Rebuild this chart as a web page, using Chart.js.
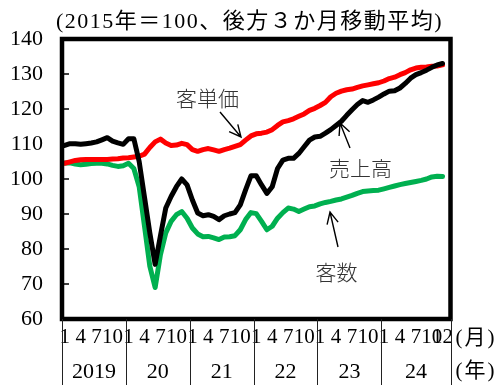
<!DOCTYPE html>
<html>
<head>
<meta charset="utf-8">
<script src="https://cdn.jsdelivr.net/npm/chart.js@4.4.1/dist/chart.umd.min.js"></script>
<style>
  body { margin: 0; background: #fff; }
</style>
</head>
<body>
<canvas id="grafico" width="499" height="385"></canvas>
<script>
// etiquetas de los ejes
const anios = ['2019', '20', '21', '22', '23', '24'];
const marcasMes = ['1', '4', '7', '10'];
const ultimaMarca = '12';

// 2015=100, media movil de 3 meses, ene 2019 - dic 2024
const ventas = [
  109.6, 110.1, 110.1, 109.9, 110.1, 110.3, 110.6, 111.2, 111.8, 110.8, 110.3, 109.9,
  111.5, 111.5, 105.0, 94.8, 84.6, 75.6, 83.8, 91.7, 95.0, 97.8, 100.0, 98.3,
  94.0, 90.3, 89.5, 89.8, 89.3, 88.4, 89.5, 90.0, 90.4, 92.6, 96.9, 100.9,
  100.9, 98.3, 95.9, 97.8, 103.0, 105.4, 105.9, 105.9, 107.3, 109.2, 111.1, 112.0,
  112.2, 113.1, 114.1, 115.3, 116.5, 118.2, 119.8, 121.3, 122.4, 121.9, 122.6, 123.4,
  124.3, 125.1, 125.2, 126.0, 127.3, 128.8, 129.8, 130.4, 131.1, 131.9, 132.6, 133.0
];
const precioMedio = [
  104.5, 104.9, 105.3, 105.5, 105.6, 105.6, 105.6, 105.6, 105.6, 105.7, 105.8, 106.0,
  106.1, 106.3, 106.5, 107.1, 109.0, 110.6, 111.4, 110.3, 109.6, 109.7, 110.2, 109.8,
  108.4, 107.9, 108.4, 108.7, 108.3, 107.9, 108.4, 108.8, 109.3, 109.8, 111.1, 112.3,
  112.9, 113.1, 113.4, 114.1, 115.3, 116.3, 116.7, 117.2, 117.9, 118.6, 119.6, 120.2,
  121.0, 121.9, 123.5, 124.5, 125.1, 125.5, 125.7, 126.2, 126.6, 126.9, 127.2, 127.5,
  128.0, 128.7, 129.1, 129.8, 130.4, 131.2, 131.7, 131.9, 132.0, 132.2, 132.3, 132.6
];
const clientes = [
  104.6, 104.6, 104.3, 104.1, 104.2, 104.4, 104.5, 104.5, 104.3, 103.9, 103.6, 103.8,
  104.5, 103.0, 97.8, 86.5, 75.1, 69.0, 78.4, 84.6, 87.9, 89.8, 90.7, 88.8,
  86.0, 84.3, 83.5, 83.6, 83.2, 82.7, 83.4, 83.5, 83.8, 85.5, 88.4, 90.4,
  90.1, 87.9, 85.5, 86.5, 88.8, 90.4, 91.7, 91.4, 90.7, 91.4, 92.1, 92.3,
  92.9, 93.3, 93.6, 94.0, 94.3, 94.8, 95.3, 95.9, 96.4, 96.6, 96.7, 96.8,
  97.2, 97.6, 98.0, 98.4, 98.7, 99.0, 99.3, 99.6, 100.0, 100.6, 100.8, 100.7
];

// un hueco extra al final del eje, como en el original
let categorias = [];
for (let a = 2019; a <= 2024; a++) {
    for (let m = 1; m <= 12; m++) {
        categorias.push(a + '/' + m);
    }
}
categorias.push('');

const serif = "'Liberation Serif', 'Noto Sans CJK JP', serif";
const gotica = "'Noto Sans CJK JP', sans-serif";

function flecha(ctx, x1, y1, x2, y2){
    const ang = Math.atan2(y2 - y1, x2 - x1);
    const largo = 13;
    ctx.beginPath();
    ctx.moveTo(x1, y1);
    ctx.lineTo(x2, y2);
    ctx.moveTo(x2 - largo * Math.cos(ang - 0.45), y2 - largo * Math.sin(ang - 0.45));
    ctx.lineTo(x2, y2);
    ctx.lineTo(x2 - largo * Math.cos(ang + 0.45), y2 - largo * Math.sin(ang + 0.45));
    ctx.stroke();
}

const decorado = {
    id: 'decorado',
    afterDraw(chart) {
        const ctx = chart.ctx;
        const area = chart.chartArea;
        const ex = chart.scales.x;
        const ey = chart.scales.y;
        ctx.save();

        // marcas cortas hacia dentro en el eje y
        ctx.strokeStyle = '#000';
        ctx.lineWidth = 1.5;
        for (let v = 70; v <= 130; v += 10) {
            let py = ey.getPixelForValue(v);
            ctx.beginPath();
            ctx.moveTo(area.left, py);
            ctx.lineTo(area.left + 7, py);
            ctx.stroke();
        }

        // marco del grafico
        ctx.lineWidth = 4.5;
        ctx.strokeRect(area.left, area.top, area.right - area.left, area.bottom - area.top);

        // separadores y etiquetas de año
        const paso = ex.getPixelForValue(1) - ex.getPixelForValue(0);
        let cortes = [];
        for (let k = 0; k < anios.length; k++) {
            cortes.push(ex.getPixelForValue(k * 12) - paso / 2);
        }
        cortes.push(area.right);
        ctx.lineWidth = 1;
        ctx.strokeStyle = '#222';
        for (let k = 0; k < cortes.length; k++) {
            ctx.beginPath();
            ctx.moveTo(Math.round(cortes[k]) + 0.5, area.bottom);
            ctx.lineTo(Math.round(cortes[k]) + 0.5, 385);
            ctx.stroke();
        }
        ctx.fillStyle = '#000';
        ctx.font = '22px ' + serif;
        ctx.textAlign = 'center';
        ctx.textBaseline = 'middle';
        for (let k = 0; k < anios.length; k++) {
            ctx.fillText(anios[k], (cortes[k] + cortes[k + 1]) / 2, 372);
        }

        // unidades a la derecha
        ctx.textAlign = 'left';
        ctx.font = '21px ' + serif;
        ctx.letterSpacing = '2px';
        ctx.fillText('(月)', area.right + 5, 338);
        ctx.fillText('(年)', area.right + 5, 371);

        // titulo
        ctx.font = '22px ' + serif;
        ctx.letterSpacing = '1.5px';
        ctx.textAlign = 'center';
        ctx.fillText('(2015年＝100、後方３か月移動平均)', 249.5, 22);
        ctx.letterSpacing = '0px';

        // nombres de las series con sus flechas
        ctx.fillStyle = '#333';
        ctx.font = '300 21px ' + gotica;
        ctx.fillText('客単価', 207.5, 98);
        ctx.fillText('売上高', 360.5, 168);
        ctx.fillText('客数', 336.5, 272);

        ctx.strokeStyle = '#000';
        ctx.lineWidth = 1.4;
        flecha(ctx, 220, 112, 241, 137);
        flecha(ctx, 350, 148, 340, 123);
        flecha(ctx, 338, 247, 330, 212);

        ctx.restore();
    }
};

function serie(nombre, datos, color){
    return {
        label: nombre,
        data: datos.concat([null]),
        borderColor: color,
        backgroundColor: color,
        borderWidth: 5,
        pointRadius: 0,
        tension: 0,
        borderCapStyle: 'round',
        borderJoinStyle: 'round',
        fill: false
    };
}

function graficar(){
    const ctx = document.getElementById('grafico').getContext('2d');
    new Chart(ctx, {
        type: 'line',
        data: {
            labels: categorias,
            datasets: [
                serie('売上高', ventas, '#000000'),
                serie('客単価', precioMedio, '#FF0000'),
                serie('客数', clientes, '#00B050')
            ]
        },
        options: {
            responsive: false,
            animation: false,
            layout: {
                padding: { top: 39, right: 48.5, bottom: 0, left: 0 }
            },
            scales: {
                x: {
                    offset: true,
                    grid: { display: false, drawTicks: false },
                    border: { display: false },
                    afterFit: function(escala){ escala.height = 66; },
                    ticks: {
                        autoSkip: false,
                        maxRotation: 0,
                        minRotation: 0,
                        padding: 6,
                        color: '#000',
                        font: { family: serif, size: 21 },
                        callback: function(valor, i){
                            if (i == 71) return ultimaMarca;
                            let mes = String(i % 12 + 1);
                            return (i < 72 && marcasMes.includes(mes)) ? mes : '';
                        }
                    }
                },
                y: {
                    min: 60,
                    max: 140,
                    grid: { display: false, drawTicks: false },
                    border: { display: false },
                    afterFit: function(escala){ escala.width = 62; },
                    ticks: {
                        stepSize: 10,
                        padding: 19,
                        color: '#000',
                        font: { family: serif, size: 22 }
                    }
                }
            },
            plugins: {
                legend: { display: false },
                tooltip: { enabled: false }
            }
        },
        plugins: [decorado]
    });
}

window.addEventListener('load', graficar);
</script>
</body>
</html>
